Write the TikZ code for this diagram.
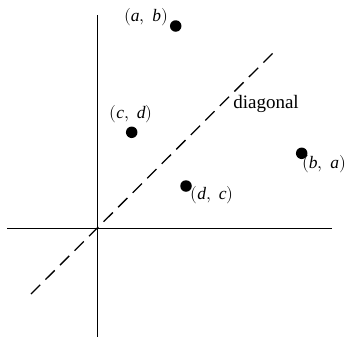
\documentclass[tikz,border=0pt]{standalone}
\usepackage{fontspec}
\setmainfont{Liberation Serif}
\usepackage{unicode-math}
\setmathfont{Latin Modern Math}
\begin{document}
\begin{tikzpicture}[x=1pt,y=-1pt,
  axis/.style={line width=0.9pt},
  diag/.style={line width=1.3pt, dash pattern=on 13pt off 7.5pt},
  pt/.style={circle, fill=black, inner sep=0pt, minimum size=11.5pt},
  lbl/.style={font=\fontsize{17.5}{19}\selectfont, inner sep=0pt}]
\useasboundingbox (0,0) rectangle (347,338);
\coordinate (xl) at (7,228);
\coordinate (xr) at (332,228);
\coordinate (yt) at (97,15);
\coordinate (yb) at (97,337);
\coordinate (dl) at (31,294);
\coordinate (dr) at (273,53);
\draw[axis] (xl) -- (xr);
\draw[axis] (yt) -- (yb);
\draw[diag] (dl) -- (dr);
\node[pt] (ab) at (175.7,26) {};
\node[pt] (cd) at (131.7,132.3) {};
\node[pt] (dc) at (186,186) {};
\node[pt] (ba) at (301.7,153.3) {};
\node[lbl] (lab) at (146,17) {$(\mathit{a},\;\mathit{b})$};
\node[lbl] (lcd) at (131,114) {$(\mathit{c},\;\mathit{d})$};
\node[lbl] (ldc) at (212,195) {$(\mathit{d},\;\mathit{c})$};
\node[lbl] (lba) at (324,164) {$(\mathit{b},\;\mathit{a})$};
\node[lbl, font=\fontsize{19}{21}\selectfont] (ldiag) at (266,104) {diagonal};
\end{tikzpicture}
\end{document}
